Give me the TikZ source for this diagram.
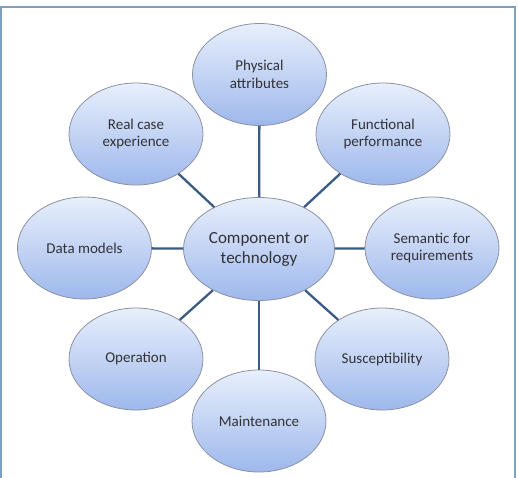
\documentclass[tikz,border=0pt]{standalone}
\usepackage{fontspec}
\setmainfont{Carlito}
\usepackage{xcolor}
\usetikzlibrary{shapes.geometric}

\definecolor{bubtop}{RGB}{232,239,252}
\definecolor{bubbot}{RGB}{158,184,236}
\definecolor{bubline}{RGB}{140,145,160}
\definecolor{linkcol}{RGB}{58,92,132}
\definecolor{framecol}{RGB}{128,158,190}
\definecolor{txtcol}{RGB}{50,50,55}

\begin{document}
\begin{tikzpicture}[x=1pt, y=-1pt,
  bubble/.style={ellipse, draw=bubline, line width=0.8pt, top color=bubtop, bottom color=bubbot,
    minimum width=134pt, minimum height=102pt, align=center, text=txtcol,
    font=\fontsize{15}{17.5}\selectfont},
  hub/.style={bubble, minimum width=147pt, minimum height=103pt, font=\fontsize{17}{20}\selectfont},
  link/.style={draw=linkcol, line width=2.3pt}]
\useasboundingbox (0,0) rectangle (518,477);

% frame
\draw[framecol, line width=2pt] (1,478) -- (1,7) -- (515,7) -- (515,478);

% centre
\node[hub] (comp) at (259,249) {Component or\\technology};

% outer bubbles
\node[bubble] (phys) at (259.5,74.5) {Physical\\attributes};
\node[bubble] (real) at (136,134) {Real case\\experience};
\node[bubble] (func) at (383,134) {Functional\\performance};
\node[bubble] (data) at (84.5,248) {Data models};
\node[bubble] (sema) at (432,248) {Semantic for\\requirements};
\node[bubble] (oper) at (136,359) {Operation};
\node[bubble] (susc) at (382,359) {Susceptibility};
\node[bubble] (main) at (259,421) {Maintenance};

% links
\foreach \n in {phys,real,func,data,sema,oper,susc,main}
  \draw[link] (comp) -- (\n);
\end{tikzpicture}
\end{document}
